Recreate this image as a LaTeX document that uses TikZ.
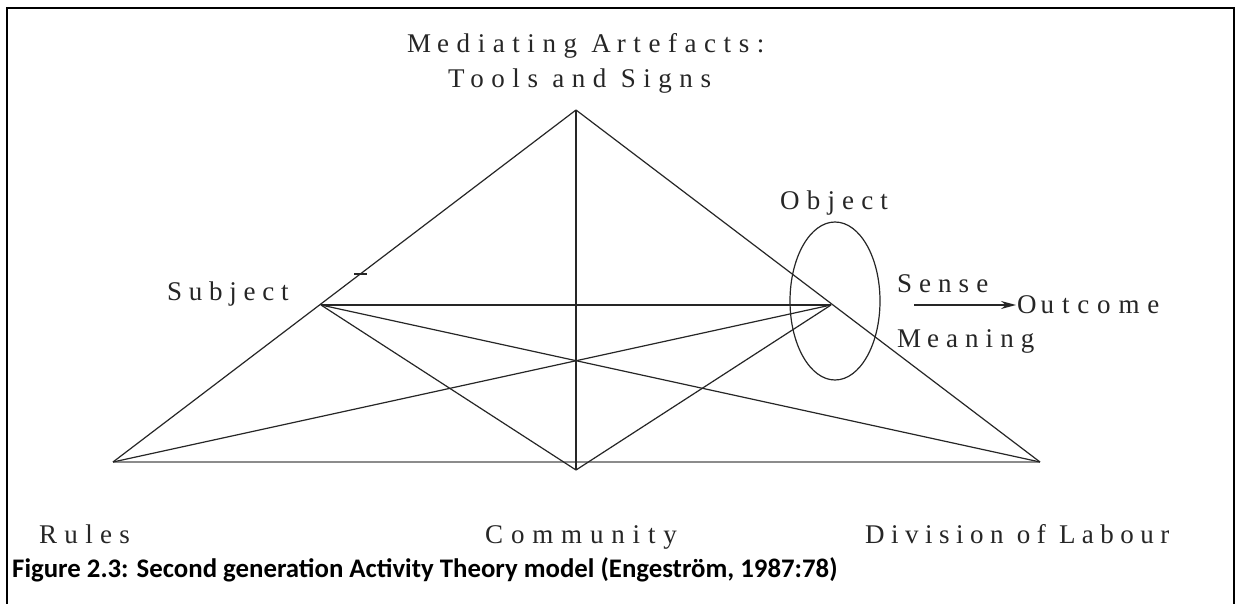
\documentclass[tikz,border=0pt]{standalone}
\usepackage{fontspec}
\setmainfont{Liberation Serif}
\newfontfamily\capfont{Carlito}
\usetikzlibrary{arrows.meta,shapes.geometric}
\newcommand{\lsp}[2]{{\addfontfeature{LetterSpace=#1}#2}}
\begin{document}
\begin{tikzpicture}[x=1pt,y=-1pt,
  edge/.style={line width=1.2pt, black!85},
  baseedge/.style={line width=1.5pt, black!45},
  lbl/.style={inner sep=0pt, anchor=base west, text=black!85,
              font=\fontsize{27}{32}\selectfont},
  capt/.style={inner sep=0pt, anchor=base west,
               font=\capfont\bfseries\fontsize{26.8}{32}\selectfont}]
\useasboundingbox (0,0) rectangle (1240,604);
\fill[white] (0,0) rectangle (1240,604);
\draw[line width=2pt] (7,605) -- (7,8) -- (1234,8) -- (1234,605);
% vertices
\coordinate (apex) at (576,110);
\coordinate (subj) at (321,305);
\coordinate (obj)  at (831,305);
\coordinate (bl)   at (113,462);
\coordinate (bm)   at (576,470);
\coordinate (br)   at (1040,462);
% edges
\draw[baseedge] (bl) -- (br);
\draw[edge] (bl) -- (apex);
\draw[edge] (apex) -- (br);
\draw[edge] (apex) -- (bm);
\draw[edge] (subj) -- (obj);
\draw[edge] (subj) -- (bm);
\draw[edge] (obj) -- (bm);
\draw[edge] (subj) -- (br);
\draw[edge] (obj) -- (bl);
\coordinate (tickA) at (354,274);
\coordinate (tickB) at (367,274);
\draw[edge] (tickA) -- (tickB);
% object ellipse
\node[draw=black!85, line width=1.2pt, ellipse, minimum width=90pt, minimum height=158pt, inner sep=0pt] (objell) at (835,301) {};
% arrow to outcome
\coordinate (arrS) at (914,305);
\coordinate (arrE) at (1016,305);
\draw[edge, -{Stealth[length=15pt,width=8pt]}] (arrS) -- (arrE);
% labels
\node[lbl] (med1) at (407,53) {\lsp{28}{M\kern6pt ediating A\kern6pt rtefacts:}};
\node[lbl] (med2) at (448,88) {\lsp{28}{Tools and Signs}};
\node[lbl] (subjl) at (167,300) {\lsp{25}{Subject}};
\node[lbl] (objl) at (780,210) {\lsp{26.5}{Object}};
\node[lbl] (sense) at (897,292) {\lsp{26}{Sense}};
\node[lbl] (meaning) at (897,347) {\lsp{26}{M\kern6pt eaning}};
\node[lbl] (outc) at (1017,313) {\lsp{29}{O\kern4pt utcome}};
\node[lbl] (rules) at (39,543) {\lsp{27}{Rules}};
\node[lbl] (comm) at (485,543) {\lsp{29}{Community}};
\node[lbl] (dol) at (865,543) {\lsp{24}{Division of Labour}};
\node[capt] (caption) at (12,577) {Figure 2.3: Second generation Activity Theory model (Engeström, 1987:78)};
\end{tikzpicture}
\end{document}
